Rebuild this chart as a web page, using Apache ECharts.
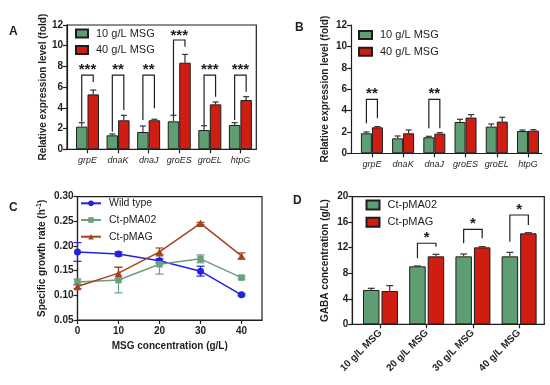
<!DOCTYPE html>
<html><head><meta charset="utf-8">
<script src="https://cdn.jsdelivr.net/npm/echarts@6/dist/echarts.min.js"></script>
<style>html,body{margin:0;padding:0;background:#fff}#c{width:550px;height:385px}</style>
</head><body><div id="c"></div>
<script>
// ---------- DATA ----------
const genes = ['grpE', 'dnaK', 'dnaJ', 'groES', 'groEL', 'htpG'];
const geneIdx = [0, 1, 2, 3, 4, 5];
// Panel A
const aLow = [2.19, 1.35, 1.67, 2.70, 1.86, 2.35];
const aLowSD = [0.38, 0.13, 0.58, 0.58, 0.42, 0.22];
const aHigh = [5.30, 2.80, 2.80, 8.36, 4.34, 4.76];
const aHighSD = [0.42, 0.48, 0.10, 0.80, 0.23, 0.32];
const aBrIdx = [0, 1, 2, 3, 4, 5];
const aBrTop = [7.17, 7.17, 7.17, 10.55, 7.17, 7.17];
const aBrLeft = [2.66, 1.70, 2.83, 3.30, 2.35, 2.83];
const aBrRight = [6.50, 3.80, 3.96, 9.90, 5.08, 5.56];
const aStarY = [7.94, 7.94, 7.94, 11.2, 7.94, 7.94];
const aStars = ['***', '**', '**', '***', '***', '***'];
// Panel B
const bLow = [1.87, 1.40, 1.50, 2.93, 2.50, 2.09];
const bLowSD = [0.13, 0.22, 0.09, 0.25, 0.24, 0.09];
const bHigh = [2.43, 1.87, 1.84, 3.34, 2.96, 2.12];
const bHighSD = [0.07, 0.31, 0.09, 0.28, 0.41, 0.09];
const bBrIdx = [0, 2];
const bBrTop = [5.05, 5.05];
const bBrLeft = [2.80, 2.34];
const bBrRight = [3.27, 2.34];
const bStarY = [5.83, 5.83];
const bStars = ['**', '**'];
// Panel C
const msg = [0, 10, 20, 30, 40];
const msgTicks = [0, 10, 20, 30, 40];
const wt = [0.188, 0.184, 0.170, 0.149, 0.101];
const wtSD = [0.019, 0.004, 0.004, 0.010, 0.002];
const ma02 = [0.127, 0.131, 0.163, 0.174, 0.136];
const ma02SD = [0.006, 0.026, 0.020, 0.008, 0.003];
const mag = [0.118, 0.145, 0.188, 0.246, 0.180];
const magSD = [0.004, 0.012, 0.008, 0.002, 0.006];
// Panel D
const dCats = ['10 g/L MSG', '20 g/L MSG', '30 g/L MSG', '40 g/L MSG'];
const dIdx = [0, 1, 2, 3];
const d02 = [5.38, 9.09, 10.65, 10.65];
const d02SD = [0.26, 0.05, 0.37, 0.63];
const dMag = [5.22, 10.65, 12.06, 14.26];
const dMagSD = [0.84, 0.32, 0.11, 0.10];
const dBrIdx = [1, 2, 3];
const dBrTop = [12.7, 14.89, 17.13];
const dBrLeft = [10.34, 12.7, 12.95];
const dBrRight = [12.16, 13.48, 15.56];
const dStarY = [14.0, 16.24, 18.4];
const dStars = ['*', '*', '*'];

// ---------- STYLE ----------
const FONT = 'Arial, "Liberation Sans", sans-serif';
const INK = '#1e1e1e';
const GREEN = '#5f9e73';
const RED = '#d01d12';
const C_BLUE = '#2121df';
const C_GREEN = '#6c9f7e';
const C_BROWN = '#a5421e';

const chart = echarts.init(document.getElementById('c'), null, {renderer: 'canvas'});

function axisLine() { return {show: true, onZero: false, lineStyle: {color: INK, width: 1.2}}; }
function yAxisCfg(grid, min, max, interval, name, nameGap, fmt) {
  return {
    gridIndex: grid, type: 'value', min: min, max: max, interval: interval,
    axisLine: axisLine(),
    axisTick: {show: true, length: 4, lineStyle: {color: INK, width: 1.2}},
    axisLabel: {fontFamily: FONT, fontSize: 10, fontWeight: 'bold', color: INK, margin: 4,
      formatter: fmt || null},
    splitLine: {show: false},
    name: name, nameLocation: 'middle', nameGap: nameGap,
    nameTextStyle: {fontFamily: FONT, fontSize: 10, fontWeight: 'bold', color: INK,
      rich: {sup: {fontFamily: FONT, fontSize: 7, fontWeight: 'bold', color: INK, verticalAlign: 'top', padding: [0, 0, 6, 0]}}}
  };
}
function catXAxis(grid, min, max, idx, labels, extraLabel) {
  return Object.assign({
    gridIndex: grid, type: 'value', min: min, max: max,
    axisLine: axisLine(),
    axisTick: {show: true, length: 4, customValues: idx, lineStyle: {color: INK, width: 1.2}},
    axisLabel: Object.assign({customValues: idx, fontFamily: FONT, color: INK,
      formatter: v => labels[Math.round(v)]}, extraLabel),
    splitLine: {show: false}
  });
}

function errRender(offset, color, cap, both) {
  return function (params, api) {
    const x = api.value(0), v = api.value(1), sd = api.value(2);
    const pTop = api.coord([x, v + sd]);
    const pBot = api.coord([x, both ? v - sd : v]);
    const cx = pTop[0] + offset;
    const kids = [
      {type: 'line', shape: {x1: cx, y1: pBot[1], x2: cx, y2: pTop[1]}, style: {stroke: color, lineWidth: 1.2}},
      {type: 'line', shape: {x1: cx - cap, y1: pTop[1], x2: cx + cap, y2: pTop[1]}, style: {stroke: color, lineWidth: 1.2}}
    ];
    if (both) kids.push({type: 'line', shape: {x1: cx - cap, y1: pBot[1], x2: cx + cap, y2: pBot[1]}, style: {stroke: color, lineWidth: 1.2}});
    return {type: 'group', children: kids};
  };
}
function bracketRender(half, stars, fontSize) {
  return function (params, api) {
    const i = api.value(0);
    const pt = api.coord([i, api.value(1)]);
    const pl = api.coord([i, api.value(2)]);
    const pr = api.coord([i, api.value(3)]);
    const ps = api.coord([i, api.value(4)]);
    const xl = pt[0] - half, xr = pt[0] + half;
    return {type: 'group', children: [
      {type: 'polyline', shape: {points: [[xl, pl[1]], [xl, pt[1]], [xr, pt[1]], [xr, pr[1]]]},
        style: {stroke: INK, lineWidth: 1.2, fill: null}},
      {type: 'text', x: pt[0], y: ps[1] + fontSize * 0.2,
        style: {text: stars[params.dataIndex], fontFamily: FONT, fontSize: fontSize, fontWeight: 'bold',
          fill: INK, align: 'center', verticalAlign: 'middle'}}
    ]};
  };
}
function zipXY(xs, ys) { return xs.map((x, i) => [x, ys[i]]); }
function zip3(xs, ys, es) { return xs.map((x, i) => [x, ys[i], es[i]]); }
function brData(idx, top, l, r, s) { return idx.map((x, i) => [x, top[i], l[i], r[i], s[i]]); }

const barStyle = c => ({color: c, borderColor: INK, borderWidth: 1});
const legendText = {fontFamily: FONT, fontSize: 11, color: INK, lineHeight: 12, padding: [0, 0, 0, 3]};

const AW = 11.5, BW = 11, DW = 16.5, DG = 2;

const option = {
  animation: false,
  backgroundColor: '#fff',
  title: [
    {text: 'A', left: 9, top: 26, padding: 0, textStyle: {fontFamily: FONT, fontSize: 12, fontWeight: 'bold', color: INK}},
    {text: 'B', left: 295, top: 22, padding: 0, textStyle: {fontFamily: FONT, fontSize: 12, fontWeight: 'bold', color: INK}},
    {text: 'C', left: 9, top: 202, padding: 0, textStyle: {fontFamily: FONT, fontSize: 12, fontWeight: 'bold', color: INK}},
    {text: 'D', left: 293, top: 195, padding: 0, textStyle: {fontFamily: FONT, fontSize: 12, fontWeight: 'bold', color: INK}}
  ],
  grid: [
    {left: 67, top: 25, width: 189.3, height: 124.3, show: true, borderColor: INK, borderWidth: 1.2, backgroundColor: 'transparent', outerBoundsMode: 'none'},
    {left: 351, top: 25, width: 190.7, height: 128.3, outerBoundsMode: 'none'},
    {left: 77.5, top: 196.7, width: 184.5, height: 123.3, show: true, borderColor: INK, borderWidth: 1.2, backgroundColor: 'transparent', outerBoundsMode: 'none'},
    {left: 352.3, top: 196.7, width: 192, height: 127.6, show: true, borderColor: INK, borderWidth: 1.2, backgroundColor: 'transparent', outerBoundsMode: 'none'}
  ],
  xAxis: [
    catXAxis(0, -0.67, 5.52, geneIdx, genes, {fontSize: 9, fontStyle: 'italic', margin: 7}),
    catXAxis(1, -0.67, 5.44, geneIdx, genes, {fontSize: 9, fontStyle: 'italic', margin: 7}),
    {gridIndex: 2, type: 'value', min: 0, max: 45, axisLine: axisLine(),
      axisTick: {show: true, length: 4, customValues: msgTicks, lineStyle: {color: INK, width: 1.2}},
      axisLabel: {customValues: msgTicks, fontFamily: FONT, fontSize: 10, fontWeight: 'bold', color: INK, margin: 6},
      splitLine: {show: false},
      name: 'MSG concentration (g/L)', nameLocation: 'middle', nameGap: 21,
      nameTextStyle: {fontFamily: FONT, fontSize: 10, fontWeight: 'bold', color: INK}},
    catXAxis(3, -0.61, 3.545, dIdx, dCats, {fontSize: 10, fontWeight: 'bold', rotate: 45, margin: 7})
  ],
  yAxis: [
    yAxisCfg(0, 0, 12, 2, 'Relative expression level (fold)', 19),
    yAxisCfg(1, 0, 12, 2, 'Relative expression level (fold)', 21),
    yAxisCfg(2, 0.05, 0.30, 0.05, 'Specific growth rate (h{sup|-1})', 29, v => v.toFixed(2)),
    yAxisCfg(3, 0, 20, 4, 'GABA concentration (g/L)', 22)
  ],
  legend: [
    {data: ['10 g/L MSG', '40 g/L MSG'], left: 75, top: 27.5, orient: 'vertical', padding: 0, itemGap: 4.5,
      itemWidth: 12, itemHeight: 8, icon: 'rect', textStyle: legendText, selectedMode: false},
    {data: ['10 g/L MSG', '40 g/L MSG'], left: 358, top: 29, orient: 'vertical', padding: 0, itemGap: 4.7,
      itemWidth: 13, itemHeight: 8, icon: 'rect', textStyle: legendText, selectedMode: false},
    {data: ['Wild type', 'Ct-pMA02', 'Ct-pMAG'], left: 80, top: 197.3, orient: 'vertical', padding: 0, itemGap: 4.7,
      itemWidth: 20, itemHeight: 7, textStyle: Object.assign({}, legendText, {fontSize: 10.5}), selectedMode: false},
    {data: ['Ct-pMA02 (D)', 'Ct-pMAG (D)'], left: 365.5, top: 199, orient: 'vertical', padding: 0, itemGap: 5.3,
      itemWidth: 13, itemHeight: 9, icon: 'rect', textStyle: legendText, selectedMode: false,
      formatter: n => n.replace(' (D)', '')}
  ],
  series: [
    // Panel A
    {type: 'bar', name: '10 g/L MSG', xAxisIndex: 0, yAxisIndex: 0, data: zipXY(geneIdx, aLow), barWidth: AW, barGap: '0%', itemStyle: barStyle(GREEN)},
    {type: 'bar', name: '40 g/L MSG', xAxisIndex: 0, yAxisIndex: 0, data: zipXY(geneIdx, aHigh), barWidth: AW, barGap: '0%', itemStyle: barStyle(RED)},
    {type: 'custom', xAxisIndex: 0, yAxisIndex: 0, data: zip3(geneIdx, aLow, aLowSD), renderItem: errRender(-AW / 2, '#333', 3, false), z: 3},
    {type: 'custom', xAxisIndex: 0, yAxisIndex: 0, data: zip3(geneIdx, aHigh, aHighSD), renderItem: errRender(AW / 2, '#333', 3, false), z: 3},
    {type: 'custom', xAxisIndex: 0, yAxisIndex: 0, data: brData(aBrIdx, aBrTop, aBrLeft, aBrRight, aStarY), renderItem: bracketRender(AW / 2, aStars, 15), z: 4},
    // Panel B
    {type: 'bar', name: '10 g/L MSG', xAxisIndex: 1, yAxisIndex: 1, data: zipXY(geneIdx, bLow), barWidth: BW, barGap: '0%', itemStyle: barStyle(GREEN)},
    {type: 'bar', name: '40 g/L MSG', xAxisIndex: 1, yAxisIndex: 1, data: zipXY(geneIdx, bHigh), barWidth: BW, barGap: '0%', itemStyle: barStyle(RED)},
    {type: 'custom', xAxisIndex: 1, yAxisIndex: 1, data: zip3(geneIdx, bLow, bLowSD), renderItem: errRender(-BW / 2, '#333', 3, false), z: 3},
    {type: 'custom', xAxisIndex: 1, yAxisIndex: 1, data: zip3(geneIdx, bHigh, bHighSD), renderItem: errRender(BW / 2, '#333', 3, false), z: 3},
    {type: 'custom', xAxisIndex: 1, yAxisIndex: 1, data: brData(bBrIdx, bBrTop, bBrLeft, bBrRight, bStarY), renderItem: bracketRender(BW / 2, bStars, 15), z: 4},
    // Panel C
    {type: 'custom', xAxisIndex: 2, yAxisIndex: 2, data: zip3(msg, wt, wtSD), renderItem: errRender(0, C_BLUE, 4, true), z: 1},
    {type: 'custom', xAxisIndex: 2, yAxisIndex: 2, data: zip3(msg, ma02, ma02SD), renderItem: errRender(0, C_GREEN, 4, true), z: 1},
    {type: 'custom', xAxisIndex: 2, yAxisIndex: 2, data: zip3(msg, mag, magSD), renderItem: errRender(0, C_BROWN, 4, true), z: 1},
    {type: 'line', name: 'Wild type', xAxisIndex: 2, yAxisIndex: 2, data: zipXY(msg, wt), symbol: 'circle', symbolSize: 7,
      lineStyle: {color: C_BLUE, width: 1.5}, itemStyle: {color: C_BLUE}, z: 3},
    {type: 'line', name: 'Ct-pMA02', xAxisIndex: 2, yAxisIndex: 2, data: zipXY(msg, ma02), symbol: 'rect', symbolSize: 6.5,
      lineStyle: {color: C_GREEN, width: 1.5}, itemStyle: {color: C_GREEN}, z: 3},
    {type: 'line', name: 'Ct-pMAG', xAxisIndex: 2, yAxisIndex: 2, data: zipXY(msg, mag), symbol: 'triangle', symbolSize: 7.5,
      lineStyle: {color: C_BROWN, width: 1.5}, itemStyle: {color: C_BROWN}, z: 3},
    // Panel D
    {type: 'bar', name: 'Ct-pMA02 (D)', xAxisIndex: 3, yAxisIndex: 3, data: zipXY(dIdx, d02), barWidth: DW, barGap: (DG / DW * 100) + '%', itemStyle: barStyle(GREEN)},
    {type: 'bar', name: 'Ct-pMAG (D)', xAxisIndex: 3, yAxisIndex: 3, data: zipXY(dIdx, dMag), barWidth: DW, barGap: (DG / DW * 100) + '%', itemStyle: barStyle(RED)},
    {type: 'custom', xAxisIndex: 3, yAxisIndex: 3, data: zip3(dIdx, d02, d02SD), renderItem: errRender(-(DW + DG) / 2, '#333', 3.5, false), z: 3},
    {type: 'custom', xAxisIndex: 3, yAxisIndex: 3, data: zip3(dIdx, dMag, dMagSD), renderItem: errRender((DW + DG) / 2, '#333', 3.5, false), z: 3},
    {type: 'custom', xAxisIndex: 3, yAxisIndex: 3, data: brData(dBrIdx, dBrTop, dBrLeft, dBrRight, dStarY), renderItem: bracketRender((DW + DG) / 2, dStars, 15), z: 4}
  ]
};
chart.setOption(option);
</script>
</body></html>
